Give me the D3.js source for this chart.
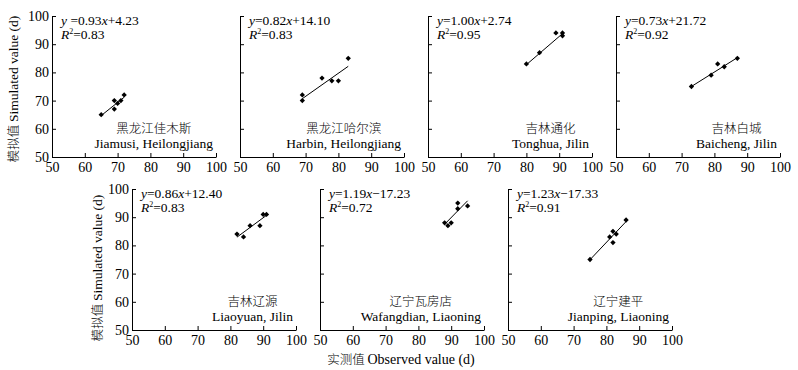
<!DOCTYPE html>
<html>
<head>
<meta charset="utf-8">
<script src="https://cdn.jsdelivr.net/npm/d3@7"></script>
<style>
  body { margin: 0; background: #fff; }
  svg { display: block; }
  text { font-family: "Liberation Serif", "Times New Roman", "Noto Sans CJK SC", serif; fill: #000; }
  .zh { font-family: "Noto Sans CJK SC", sans-serif; font-weight: 300; }
</style>
</head>
<body>
<svg width="798" height="370"></svg>
<script>
// site names
var sitesZh = ["黑龙江佳木斯", "黑龙江哈尔滨", "吉林通化", "吉林白城", "吉林辽源", "辽宁瓦房店", "辽宁建平"];
var sitesEn = ["Jiamusi, Heilongjiang", "Harbin, Heilongjiang", "Tonghua, Jilin", "Baicheng, Jilin",
               "Liaoyuan, Jilin", "Wafangdian, Liaoning", "Jianping, Liaoning"];

// observed (x) and simulated (y) days
var observed = [
  [65, 69, 69, 70, 71, 72],
  [69, 69, 75, 78, 80, 83],
  [80, 84, 89, 91, 91],
  [73, 79, 81, 83, 87],
  [82, 84, 86, 89, 90, 91],
  [88, 89, 90, 92, 92, 95],
  [75, 81, 82, 82, 83, 86]
];
var simulated = [
  [65, 70, 67, 69, 70, 72],
  [72, 70, 78, 77, 77, 85],
  [83, 87, 94, 94, 93],
  [75, 79, 83, 82, 85],
  [84, 83, 87, 87, 91, 91],
  [88, 87, 88, 93, 95, 94],
  [75, 83, 81, 85, 84, 89]
];

// fitted lines
var slopes = [0.93, 0.82, 1.00, 0.73, 0.86, 1.19, 1.23];
var intercepts = [4.23, 14.10, 2.74, 21.72, 12.40, -17.23, -17.33];
var r2 = [0.83, 0.83, 0.95, 0.92, 0.83, 0.72, 0.91];

var tickValues = [50, 60, 70, 80, 90, 100];

var svg = d3.select("svg");
var pw = 164, ph = 141, step = 188;

function origin(i) {
  if (i < 4) return [52 + i * step, 16];
  return [132 + (i - 4) * step, 189];
}

sitesEn.forEach(function (name, i) {
  var o = origin(i);
  var g = svg.append("g").attr("transform", "translate(" + o[0] + "," + o[1] + ")");

  var x = d3.scaleLinear().domain([50, 100]).range([0, pw]);
  var y = d3.scaleLinear().domain([50, 100]).range([ph, 0]);

  var xAxis = g.append("g")
      .attr("transform", "translate(0," + ph + ")")
      .call(d3.axisBottom(x).tickValues(tickValues).tickSizeInner(-4).tickSizeOuter(0).tickPadding(5));
  var yAxis = g.append("g")
      .call(d3.axisLeft(y).tickValues(tickValues).tickSizeInner(-4).tickSizeOuter(0).tickPadding(3)
        .tickFormat(i === 0 || i === 4 ? d3.format("d") : ""));
  [xAxis, yAxis].forEach(function (a) {
    a.selectAll("text").attr("font-size", 14).attr("font-family", null);
    a.selectAll("path, line").attr("stroke", "#000").attr("stroke-width", 1);
  });

  // fitted line
  var xs = d3.extent(observed[i]);
  g.append("path")
      .datum(xs)
      .attr("fill", "none")
      .attr("stroke", "#000")
      .attr("stroke-width", 1)
      .attr("d", d3.line()
        .x(function (d) { return x(d); })
        .y(function (d) { return y(slopes[i] * d + intercepts[i]); }));

  // points
  var sym = d3.symbol().type(d3.symbolSquare).size(14);
  g.selectAll(".pt")
      .data(observed[i].map(function (v, k) { return [v, simulated[i][k]]; }))
      .enter().append("path")
      .attr("class", "pt")
      .attr("d", sym)
      .attr("fill", "#000")
      .attr("transform", function (d) { return "translate(" + x(d[0]) + "," + y(d[1]) + ") rotate(45)"; });

  // equation
  var eq = g.append("text").attr("x", 9).attr("y", 9).attr("font-size", 13.5);
  eq.append("tspan").attr("font-style", "italic").text("y");
  eq.append("tspan").text((i === 0 ? " =" : "=") + slopes[i].toFixed(2));
  eq.append("tspan").attr("font-style", "italic").text("x");
  eq.append("tspan").text((intercepts[i] < 0 ? "\u2212" : "+") + Math.abs(intercepts[i]).toFixed(2));

  var rt = g.append("text").attr("x", 9).attr("y", 23).attr("font-size", 13.5);
  rt.append("tspan").attr("font-style", "italic").text("R");
  rt.append("tspan").attr("font-size", 8).attr("dy", -5).text("2");
  rt.append("tspan").attr("dy", 5).text("=" + r2[i].toFixed(2));

  // site labels
  var en = g.append("text")
      .attr("x", pw - 3).attr("y", ph - 9)
      .attr("text-anchor", "end")
      .attr("font-size", 13.5)
      .text(name);
  var w = en.node().getComputedTextLength();
  g.append("text")
      .attr("class", "zh")
      .attr("x", pw - 3 - w / 2).attr("y", ph - 24)
      .attr("text-anchor", "middle")
      .attr("font-size", 12.5)
      .text(sitesZh[i]);
});

// axis titles
function yTitle(cx, cy) {
  var t = svg.append("text")
      .attr("transform", "translate(" + cx + "," + cy + ") rotate(-90)")
      .attr("text-anchor", "middle")
      .attr("dy", "0.35em")
      .attr("font-size", 13.5);
  t.append("tspan").attr("class", "zh").attr("font-size", 12.5).text("模拟值 ");
  t.append("tspan").text("Simulated value (d)");
}
yTitle(13, 89);
yTitle(97, 268);

var xt = svg.append("text")
    .attr("x", 401).attr("y", 364)
    .attr("text-anchor", "middle")
    .attr("font-size", 14);
xt.append("tspan").attr("class", "zh").attr("font-size", 12.5).text("实测值 ");
xt.append("tspan").text("Observed value (d)");
</script>
</body>
</html>
